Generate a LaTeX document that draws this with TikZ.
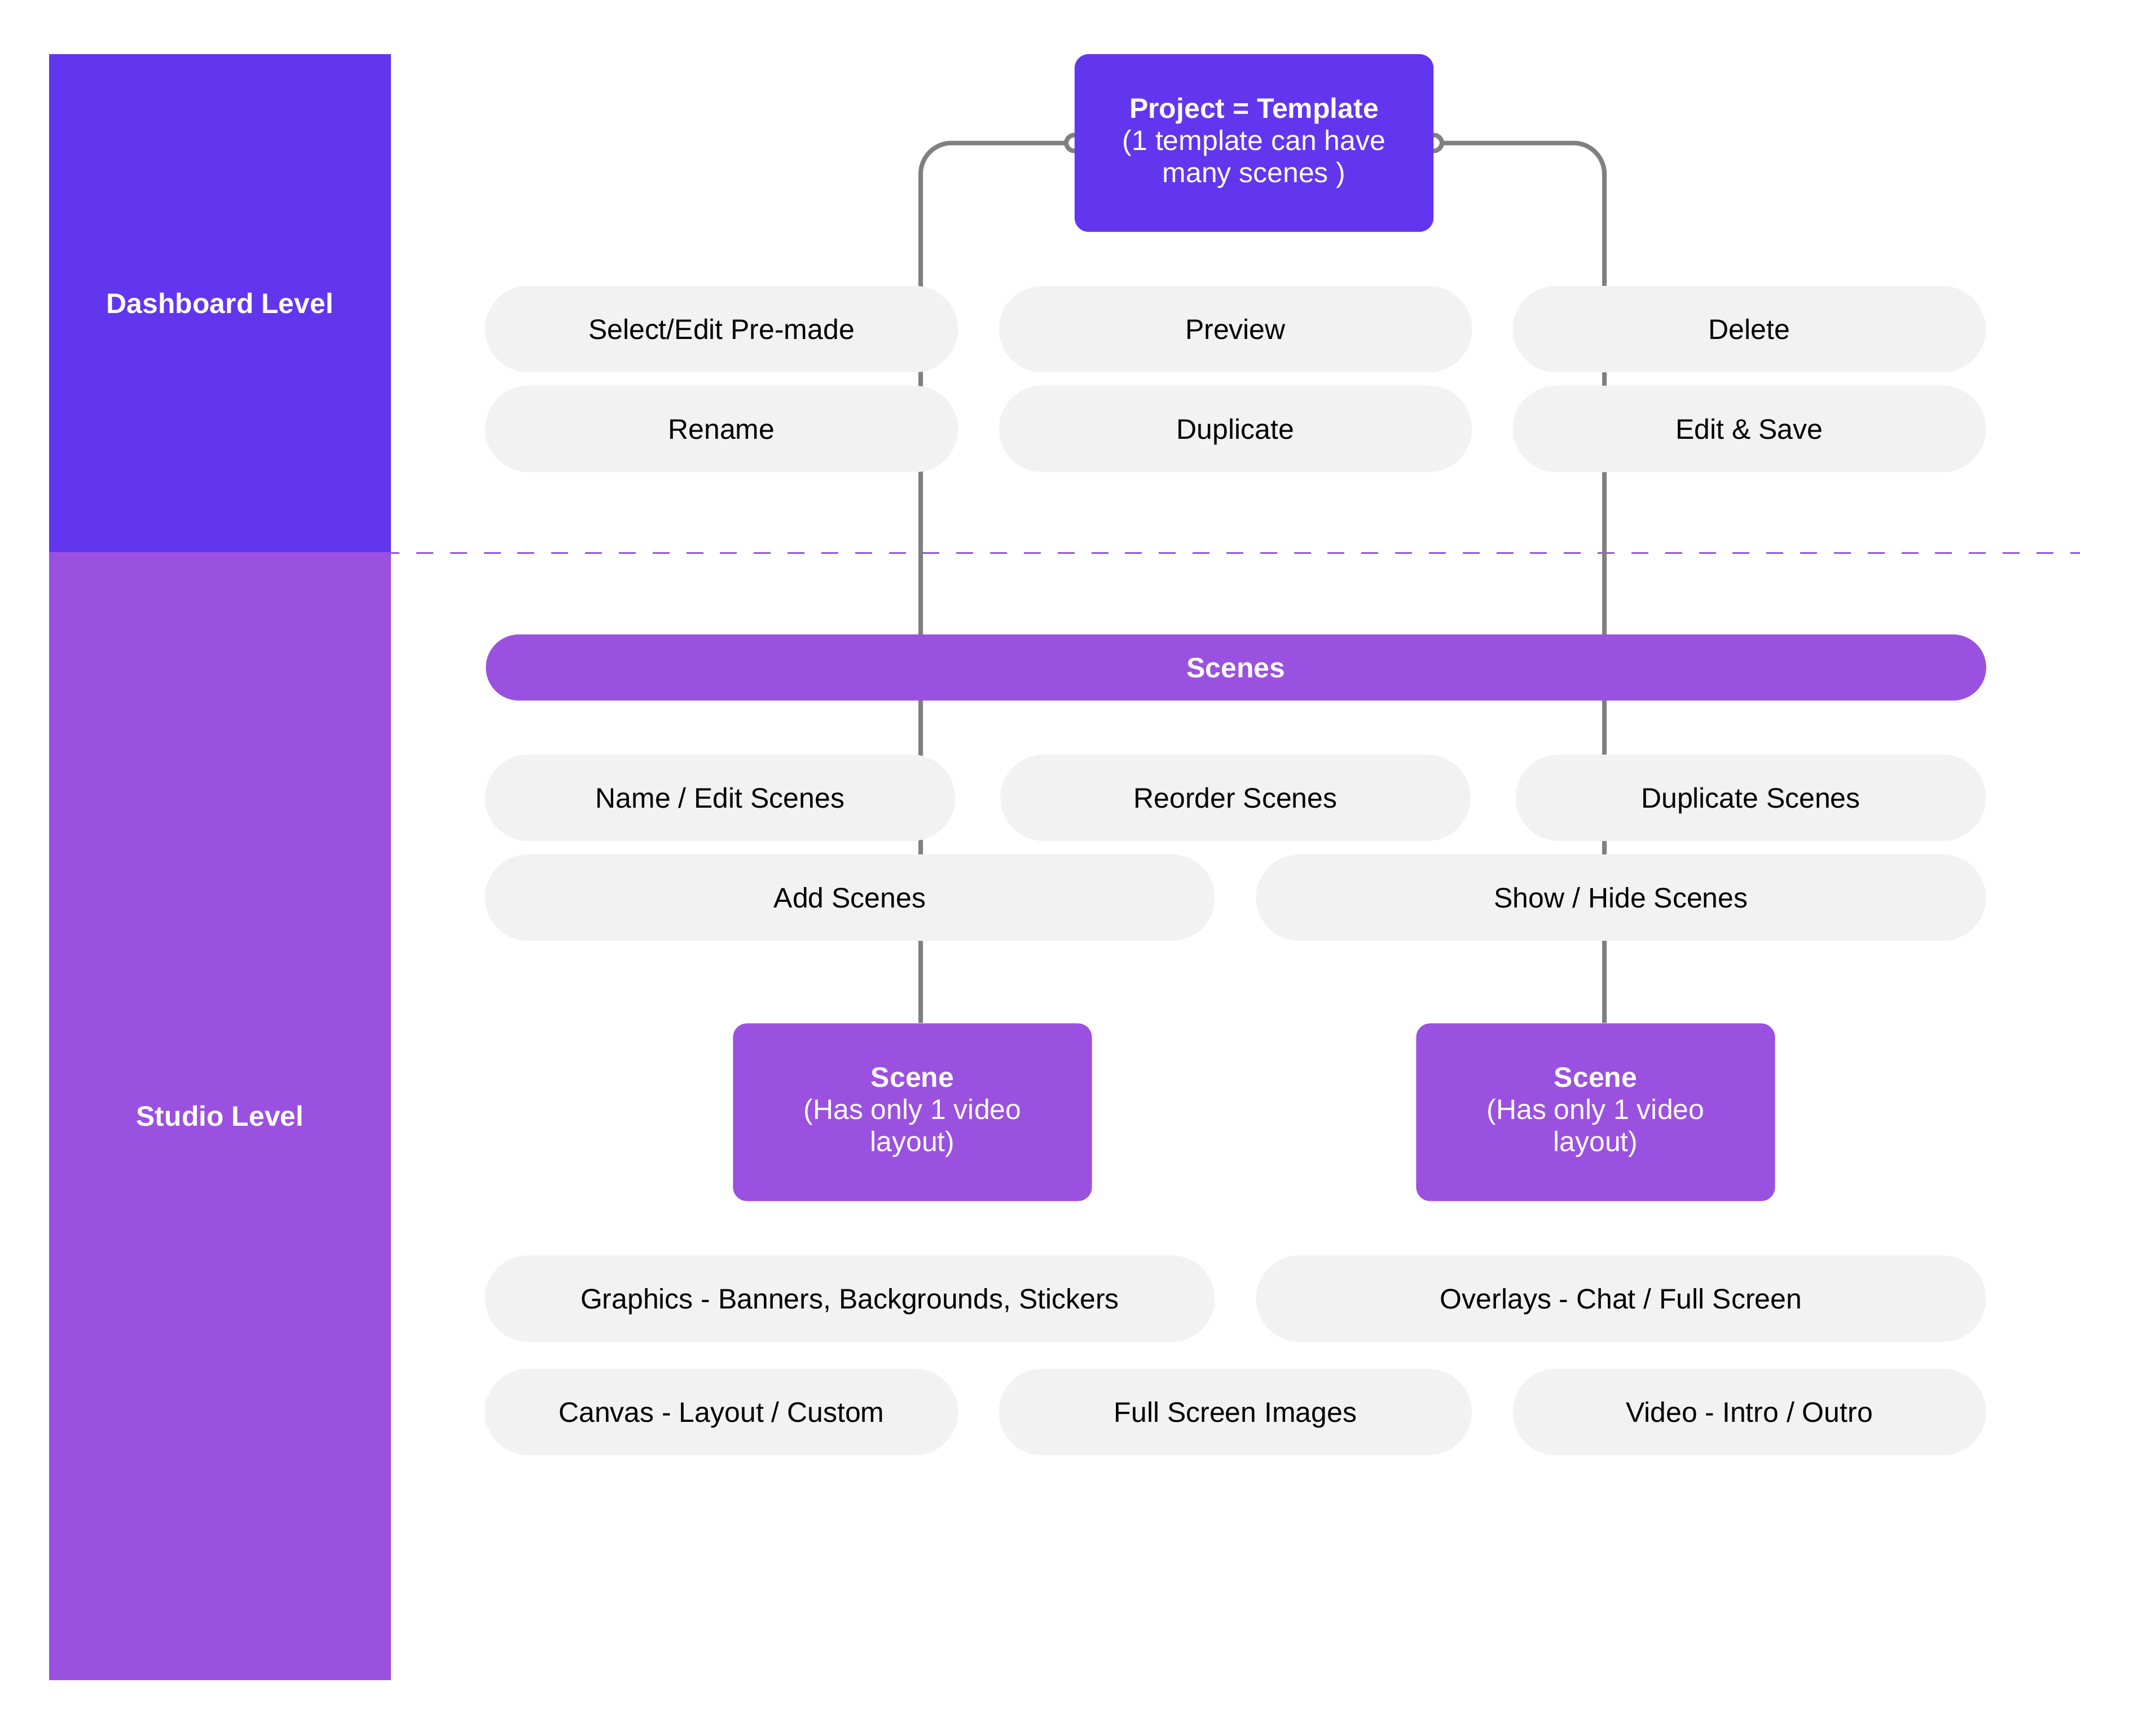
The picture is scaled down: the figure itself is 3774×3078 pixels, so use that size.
\documentclass[tikz,border=0pt]{standalone}
\usepackage{fontspec}
\setmainfont{Liberation Sans}
\usetikzlibrary{calc}
\definecolor{dashc}{HTML}{6236EF}
\definecolor{studc}{HTML}{9B51E0}
\definecolor{pillc}{HTML}{F2F2F2}
\definecolor{connc}{HTML}{808080}
\pgfdeclarelayer{bg}
\pgfsetlayers{bg,main}
\begin{document}
\begin{tikzpicture}[x=0.01cm,y=-0.01cm,
  txt/.style={font=\fontsize{14.2}{16.2}\selectfont},
  band/.style={rectangle,inner sep=0,minimum width=6.06cm,text=white,font=\fontsize{14.2}{16.2}\selectfont\bfseries},
  pill/.style={txt,fill=pillc,rounded corners=0.765cm,minimum height=1.53cm,inner sep=0,text=black,text height=10.2pt,text depth=0pt},
  pillA/.style={pill,minimum width=8.38cm},
  pillB/.style={pill,minimum width=8.33cm},
  pillC/.style={pill,minimum width=12.93cm},
  box/.style={txt,rounded corners=0.25cm,inner sep=0,text=white,align=center,minimum width=6.36cm,minimum height=3.15cm},
  bar/.style={rounded corners=0.585cm,minimum width=26.58cm,minimum height=1.17cm,inner sep=0,text=white,text height=10.2pt,text depth=0pt,font=\fontsize{14.2}{16.2}\selectfont\bfseries},
  conn/.style={draw=connc,line width=0.08cm},
  divider/.style={draw=studc,line width=0.03cm,dash pattern=on 0.30cm off 0.298cm}
]
\useasboundingbox (0,0) rectangle (3774,3078);

% level bands
\node[band,fill=dashc,minimum height=8.84cm] (dash) at (390,538) {Dashboard Level};
\node[band,fill=studc,minimum height=19.98cm] (stud) at (390,1979) {Studio Level};

% project
\node[box,fill=dashc] (proj) at (2223,253.5) {\textbf{Project = Template}\\(1 template can have\\many scenes )};

% dashboard pills
\node[pillA] (p11) at (1279,583.5) {Select/Edit Pre-made};
\node[pillA] (p12) at (2190,583.5) {Preview};
\node[pillA] (p13) at (3101,583.5) {Delete};
\node[pillA] (p21) at (1279,760.5) {Rename};
\node[pillA] (p22) at (2190,760.5) {Duplicate};
\node[pillA] (p23) at (3101,760.5) {Edit \& Save};

% scenes bar
\node[bar,fill=studc] (scenes) at (2191,1183.5) {Scenes};

% scene pills
\node[pillB] (p31) at (1276.5,1414.5) {Name / Edit Scenes};
\node[pillB] (p32) at (2190,1414.5) {Reorder Scenes};
\node[pillB] (p33) at (3103.5,1414.5) {Duplicate Scenes};
\node[pillC] (p41) at (1506.5,1591.5) {Add Scenes};
\node[pillC] (p42) at (2873.5,1591.5) {Show / Hide Scenes};

% scene boxes
\node[box,fill=studc] (sceneL) at (1617.5,1972) {\textbf{Scene}\\(Has only 1 video\\layout)};
\node[box,fill=studc] (sceneR) at (2828.5,1972) {\textbf{Scene}\\(Has only 1 video\\layout)};

% scene content pills
\node[pillC] (p51) at (1506.5,2302.5) {Graphics - Banners, Backgrounds, Stickers};
\node[pillC] (p52) at (2873.5,2302.5) {Overlays - Chat / Full Screen};
\node[pillA] (p61) at (1279,2503.5) {Canvas - Layout / Custom};
\node[pillA] (p62) at (2190,2503.5) {Full Screen Images};
\node[pillA] (p63) at (3101,2503.5) {Video - Intro / Outro};

% connectors and divider behind
\begin{pgfonlayer}{bg}
  \coordinate (divL) at (678,980);
  \coordinate (divR) at (3687,980);
  \draw[divider] (divL) -- (divR);
  \coordinate (lx) at (1632,0);
  \coordinate (rx) at (2844,0);
  \draw[conn,rounded corners=0.55cm] (proj.west) -| (lx |- sceneL.north);
  \draw[conn,rounded corners=0.55cm] (proj.east) -| (rx |- sceneR.north);
  \draw[conn,fill=white] (proj.west) circle[radius=0.14cm];
  \draw[conn,fill=white] (proj.east) circle[radius=0.14cm];
\end{pgfonlayer}
\end{tikzpicture}
\end{document}
